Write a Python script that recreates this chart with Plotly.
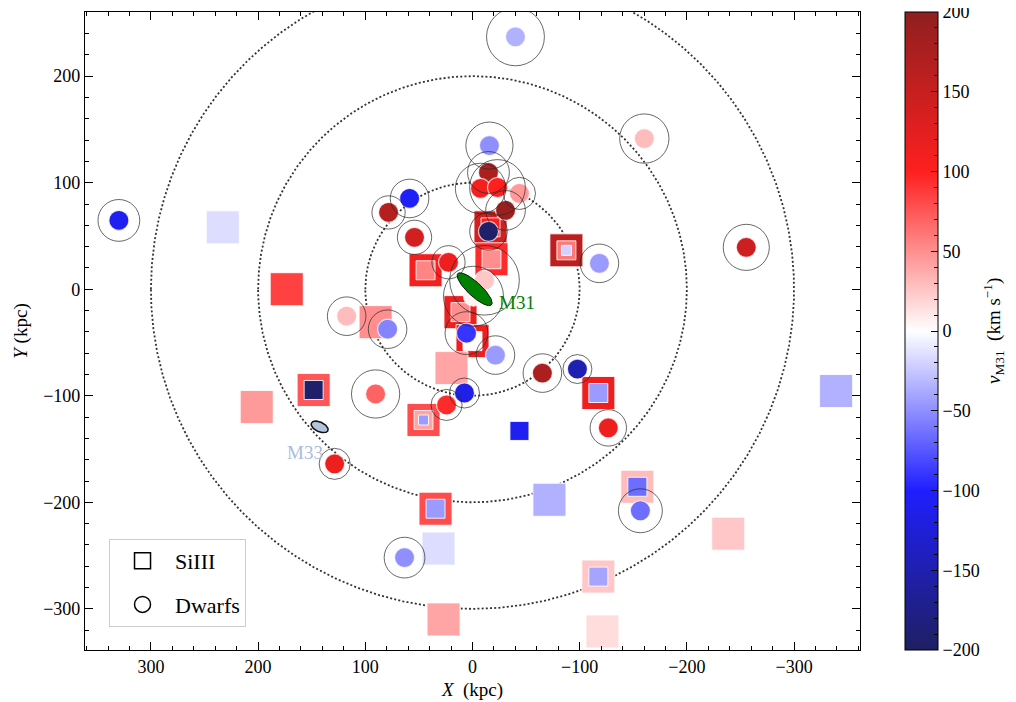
import numpy as np
import plotly.graph_objects as go

# ---------------- data ----------------
# Dwarf galaxies: position (kpc), velocity relative to M31 (km/s), virial radius (kpc)
dwarf_x = [329.9, -40.1, -160.3, -255.4, -15.8, 58.7, 78.3, 54.1, -14.9, -7.5,
           -23.3, -43.8, -30.8, -14.9, 22.4, 117.4, 79.2, 5.6, -21.4, 90.4,
           24.2, 7.5, -65.2, -97.9, -126.7, -156.6, 63.4, 128.6, -118.4, -11.2, -0.9]
dwarf_y = [64.6, 236.9, 141.4, 39.3, 134.8, 85.2, 72.1, 48.7, 109.6, 94.6,
           95.5, 89.9, 74.0, 54.3, 25.3, -25.3, -37.5, -41.2, -61.8, -98.3,
           -108.6, -97.4, -78.7, -74.9, -130.1, -207.9, -251.9, -163.9, 24.3, 8.4, -6.6]
dwarf_v = [-110, -35, 30, 145, -50, -105, 165, 140, 175, 110,
           100, 45, 190, -195, 115, 30, -55, -90, -45, 70,
           95, -115, 175, -150, 115, -65, -50, 115, -45, 25, 5]
dwarf_rvir = [19.5, 27.0, 23.0, 21.5, 22.0, 18.0, 15.5, 16.0, 19.5, 23.5,
              26.0, 15.0, 18.5, 17.5, 15.5, 18.0, 18.0, 20.0, 18.0, 22.5,
              14.5, 14.0, 18.0, 13.5, 17.0, 20.5, 19.0, 14.5, 18.0, 32.5, 28.0]

# SiIII absorbers: sightline position (kpc) and up to three velocity components (km/s)
si_x = [233.0, 173.3, 90.4, 201.3, 148.2, 43.8, 11.2, 0.0, 19.6, 45.7,
        -43.8, -117.4, -87.6, -16.8, -17.7, -71.8, -153.8, -238.6, -339.2, 34.5,
        31.7, -117.4, 27.0, -121.2]
si_y = [58.1, 0.0, -30.9, -110.5, -94.6, 17.8, -21.5, -48.7, -74.0, -122.7,
        -133.0, -97.4, 36.5, 58.1, 28.1, -197.6, -185.4, -229.4, -95.5, -206.0,
        -243.4, -269.7, -309.9, -321.2]
si_v1 = [-15, 85, 50, 45, 75, 110, 115, 115, 40, 80,
         0, 115, 160, 140, 95, -35, 30, 25, -35, 80,
         -15, 25, 40, 15]
si_v2 = [None, None, None, None, -195, 55, 50, 0, None, 40,
         -110, -45, 60, 100, 50, None, -65, None, None, -45,
         None, -40, None, None]
si_v3 = [None, None, None, None, None, None, None, None, None, -45,
         None, None, -20, None, None, None, None, None, None, None,
         None, None, None, None]

ring_radii = [100, 200, 300]
cbar_ticks = [-200, -150, -100, -50, 0, 50, 100, 150, 200]
cbar_minor_ticks = [v for v in range(-190, 200, 10) if v % 50 != 0]

m31_center = (-2.0, 0.0)
m31_axes = (21.5, 6.5)
m31_pa = 43.0
m33_center = (142.6, -129.2)
m33_axes = (8.5, 4.5)
m33_pa = 25.0

# ---------------- layout constants ----------------
# the page body adds an 8 px margin, so the figure is 8 px smaller than the window
PAGE_PAD = 8
W, H = 1016 - PAGE_PAD, 702 - PAGE_PAD
ML, MR, MT, MB = 85 - PAGE_PAD, 156, 12 - PAGE_PAD, 52
PLOT_W = W - ML - MR
X_RANGE = [361.5, -361.5]
Y_RANGE = [-338.6, 260.2]
px_per_kpc = PLOT_W / (X_RANGE[0] - X_RANGE[1])
SERIF = "Liberation Serif"
VMIN, VMAX = -200.0, 200.0

alpha = 0.88
def blend(c):
    return tuple(round(255 * (1 - alpha * (1 - v))) for v in c)
seismic = [(0.0, (0, 0, 0.3)), (0.25, (0, 0, 1)), (0.5, (1, 1, 1)),
           (0.75, (1, 0, 0)), (1.0, (0.5, 0, 0))]
colorscale = [[p, 'rgb(%d,%d,%d)' % blend(c)] for p, c in seismic]
clear_scale = [[0, 'rgba(0,0,0,0)'], [1, 'rgba(0,0,0,0)']]

fig = go.Figure()

# dotted distance rings
th = np.linspace(0, 2 * np.pi, 1441)
for r in ring_radii:
    fig.add_trace(go.Scatter(x=r * np.cos(th), y=r * np.sin(th), mode='lines',
                             line=dict(color='#333333', width=1.8, dash='2px,2.2px'),
                             hoverinfo='skip', showlegend=False))

# SiIII nested squares
for vals, size in ((si_v1, 33), (si_v2, 19), (si_v3, 10)):
    idx = [i for i, v in enumerate(vals) if v is not None]
    fig.add_trace(go.Scatter(
        x=[si_x[i] for i in idx], y=[si_y[i] for i in idx], mode='markers',
        marker=dict(symbol='square', size=size, color=[vals[i] for i in idx],
                    coloraxis='coloraxis', line=dict(color='rgba(255,255,255,0.85)', width=1)),
        showlegend=False, hoverinfo='skip'))

# dwarfs: filled circles
fig.add_trace(go.Scatter(
    x=dwarf_x, y=dwarf_y, mode='markers',
    marker=dict(symbol='circle', size=20, color=dwarf_v, coloraxis='coloraxis',
                line=dict(color='rgba(255,255,255,0.7)', width=1.2)),
    showlegend=False, hoverinfo='skip'))
# dwarfs: virial radius outlines
fig.add_trace(go.Scatter(
    x=dwarf_x, y=dwarf_y, mode='markers',
    marker=dict(symbol='circle-open', size=[2 * r * px_per_kpc for r in dwarf_rvir],
                color='#2a2a2a', line=dict(width=1)),
    showlegend=False, hoverinfo='skip'))

# invisible trace carrying a transparent colorbar that only adds minor ticks
fig.add_trace(go.Scatter(x=[None], y=[None], mode='markers',
                         marker=dict(color=[0], coloraxis='coloraxis2'),
                         showlegend=False, hoverinfo='skip'))


def ellipse(center, axes, pa):
    t = np.linspace(0, 2 * np.pi, 181)
    a, b = axes
    c, s = np.cos(np.radians(pa)), np.sin(np.radians(pa))
    ex = center[0] + a * np.cos(t) * c - b * np.sin(t) * s
    ey = center[1] + a * np.cos(t) * s + b * np.sin(t) * c
    return ex, ey

ex, ey = ellipse(m31_center, m31_axes, m31_pa)
fig.add_trace(go.Scatter(x=ex, y=ey, mode='lines', fill='toself', fillcolor='#008000',
                         line=dict(color='#111111', width=1), showlegend=False, hoverinfo='skip'))
ex, ey = ellipse(m33_center, m33_axes, m33_pa)
fig.add_trace(go.Scatter(x=ex, y=ey, mode='lines', fill='toself', fillcolor='#b0c4de',
                         line=dict(color='#111111', width=1.5), showlegend=False, hoverinfo='skip'))

fig.add_annotation(x=-23, y=-12, text='M31', showarrow=False, xanchor='left', yanchor='middle',
                   font=dict(family=SERIF, size=19, color='#008000'))
fig.add_annotation(x=156.6, y=-153.6, text='M33', showarrow=False, xanchor='center', yanchor='middle',
                   font=dict(family=SERIF, size=19, color='#a9bce0'))

# colorbar title as a rotated annotation
fig.add_annotation(xref='paper', yref='paper', x=(993 - 85) / PLOT_W, y=0.5,
                   text='<i>v</i><sub>M31</sub>  (km s<sup>−1</sup>)', textangle=-90,
                   showarrow=False, xanchor='center', yanchor='middle',
                   font=dict(family=SERIF, size=19, color='black'))

# legend entries
fig.add_trace(go.Scatter(x=[None], y=[None], mode='markers', name='SiIII', legendgroup='a',
                         marker=dict(symbol='square-open', size=16, color='black', line=dict(width=1.5))))
fig.add_trace(go.Scatter(x=[None], y=[None], mode='markers', name='Dwarfs', legendgroup='b',
                         marker=dict(symbol='circle-open', size=16, color='black', line=dict(width=1.5))))

axis_common = dict(showline=True, linecolor='black', linewidth=1.2, mirror='allticks',
                   ticks='inside', ticklen=8, tickwidth=1.2, tickcolor='black',
                   showgrid=False, zeroline=False, dtick=100, tick0=0,
                   minor=dict(ticks='inside', ticklen=4, tickwidth=1, dtick=20, tickcolor='black'),
                   tickfont=dict(family=SERIF, size=18, color='black'), automargin=False)

cbar_common = dict(x=(905 - 85) / PLOT_W, xanchor='left', xpad=0,
                   y=0.5, yanchor='middle', len=1, lenmode='fraction', ypad=0,
                   thickness=33, ticks='inside', tickcolor='black', ticklabeloverflow='allow',
                   tickfont=dict(family=SERIF, size=18, color='black'))

fig.update_layout(
    width=W, height=H, margin=dict(l=ML, r=MR, t=MT, b=MB, autoexpand=False),
    paper_bgcolor='white', plot_bgcolor='white',
    font=dict(family=SERIF, color='black'),
    xaxis=dict(range=X_RANGE, title=dict(text='<i>X</i>  (kpc)', font=dict(family=SERIF, size=19), standoff=6),
               **axis_common),
    yaxis=dict(range=Y_RANGE, title=dict(text='<i>Y</i> (kpc)', font=dict(family=SERIF, size=19), standoff=10),
               **axis_common),
    coloraxis=dict(colorscale=colorscale, cmin=VMIN, cmax=VMAX,
                   colorbar=dict(tickvals=cbar_ticks, ticklen=7, tickwidth=1.2,
                                 ticktext=[str(v).replace('-', '−') for v in cbar_ticks],
                                 outlinewidth=1, outlinecolor='black', **cbar_common)),
    coloraxis2=dict(colorscale=clear_scale, cmin=VMIN, cmax=VMAX,
                    colorbar=dict(tickvals=cbar_minor_ticks, ticklen=4, tickwidth=0.8,
                                  showticklabels=False, outlinewidth=0, **cbar_common)),
    legend=dict(x=0.031, y=0.036, xanchor='left', yanchor='bottom', bgcolor='white',
                bordercolor='#cccccc', borderwidth=1, tracegroupgap=12, itemwidth=55,
                font=dict(family=SERIF, size=22, color='black')),
)

fig.write_html('out.html')
